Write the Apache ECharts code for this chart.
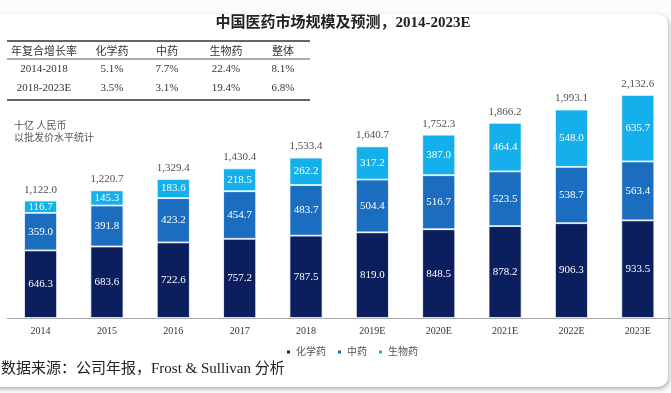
<!DOCTYPE html>
<html>
<head>
<meta charset="utf-8">
<script src="https://cdn.jsdelivr.net/npm/echarts@6/dist/echarts.min.js"></script>
<style>
html,body{margin:0;padding:0;background:#fbfbfb;}
#chart{width:671px;height:393px;}
</style>
</head>
<body>
<div id="chart"></div>
<script>
const categories = ['2014','2015','2016','2017','2018','2019E','2020E','2021E','2022E','2023E'];
const chemical = [646.3,683.6,722.6,757.2,787.5,819.0,848.5,878.2,906.3,933.5];
const tcm = [359.0,391.8,423.2,454.7,483.7,504.4,516.7,523.5,538.7,563.4];
const bio = [116.7,145.3,183.6,218.5,262.2,317.2,387.0,464.4,548.0,635.7];
const totals = [1122.0,1220.7,1329.4,1430.4,1533.4,1640.7,1752.3,1866.2,1993.1,2132.6];
const seriesNames = ['化学药','中药','生物药'];
const tableHeader = ['年复合增长率','化学药','中药','生物药','整体'];
const tableRows = [
  ['2014-2018','5.1%','7.7%','22.4%','8.1%'],
  ['2018-2023E','3.5%','3.1%','19.4%','6.8%']
];
const titleText = '中国医药市场规模及预测，2014-2023E';
const unitLines = ['十亿 人民币','以批发价水平统计'];
const sourceText = '数据来源：公司年报，Frost & Sullivan 分析';

const FONT = "'Liberation Serif','Times New Roman','Noto Sans CJK SC',serif";
const colors = ['#0b1f5e','#1b6dc0','#14b0ec'];
const fmt = v => v.toLocaleString('en-US',{minimumFractionDigits:1,maximumFractionDigits:1});

const colX = [44,112,167,226,283];
const rowY = [52,69,88];
const graphics = [];
graphics.push({type:'rect',z:-10,shape:{x:-12,y:14,width:680,height:373,r:10},
  style:{fill:'#ffffff',shadowBlur:4,shadowColor:'rgba(0,0,0,0.3)',shadowOffsetY:2,shadowOffsetX:1}});
graphics.push({type:'text',x:343,y:23,style:{text:titleText,font:"bold 15px "+FONT,fill:'#222',align:'center',verticalAlign:'middle'}});
[41,100].forEach(y=>graphics.push({type:'line',shape:{x1:7,y1:y,x2:310,y2:y},style:{stroke:'#333',lineWidth:1.5}}));
graphics.push({type:'line',shape:{x1:7,y1:59,x2:310,y2:59},style:{stroke:'#555',lineWidth:1}});
[tableHeader].concat(tableRows).forEach((row,ri)=>{
  row.forEach((t,ci)=>{
    graphics.push({type:'text',x:colX[ci],y:rowY[ri],style:{text:t,font:"11px "+FONT,fill:'#333',align:'center',verticalAlign:'middle'}});
  });
});
unitLines.forEach((t,i)=>graphics.push({type:'text',x:14,y:126+i*12,style:{text:t,font:"10px "+FONT,fill:'#555',verticalAlign:'middle'}}));
graphics.push({type:'text',x:1,y:369,style:{text:sourceText,font:"15px "+FONT,fill:'#222',verticalAlign:'middle'}});

const chart = echarts.init(document.getElementById('chart'));
const inLabel = {show:true,position:'inside',color:'#fff',fontSize:11,fontFamily:FONT,formatter:p=>fmt(p.value)};
chart.setOption({
  animation:false,
  graphic:graphics,
  legend:{data:seriesNames,left:280,top:342,icon:'rect',itemWidth:5,itemHeight:5,itemGap:10,
    textStyle:{fontSize:10,color:'#555',fontFamily:FONT}},
  grid:{left:7.4,width:672,top:56.5,bottom:75},
  xAxis:{type:'category',data:categories,axisTick:{show:false},
    axisLine:{lineStyle:{color:'#aaa',width:1}},
    axisLabel:{fontSize:10,color:'#333',fontFamily:FONT,margin:8}},
  yAxis:{type:'value',min:0,max:2500,show:false,splitLine:{show:false}},
  series:[
    {name:seriesNames[0],type:'bar',stack:'t',data:chemical,barWidth:33,itemStyle:{color:colors[0],borderColor:'#fff',borderWidth:0.8},label:inLabel},
    {name:seriesNames[1],type:'bar',stack:'t',data:tcm,itemStyle:{color:colors[1],borderColor:'#fff',borderWidth:0.8},label:inLabel},
    {name:seriesNames[2],type:'bar',stack:'t',data:bio,itemStyle:{color:colors[2],borderColor:'#fff',borderWidth:0.8},label:inLabel},
    {name:'合计',type:'scatter',data:totals,symbolSize:1,itemStyle:{color:'rgba(0,0,0,0)'},z:5,
      label:{show:true,position:'top',distance:5,color:'#222',fontSize:11,fontFamily:FONT,formatter:p=>fmt(p.value)}}
  ]
});
</script>
</body>
</html>
